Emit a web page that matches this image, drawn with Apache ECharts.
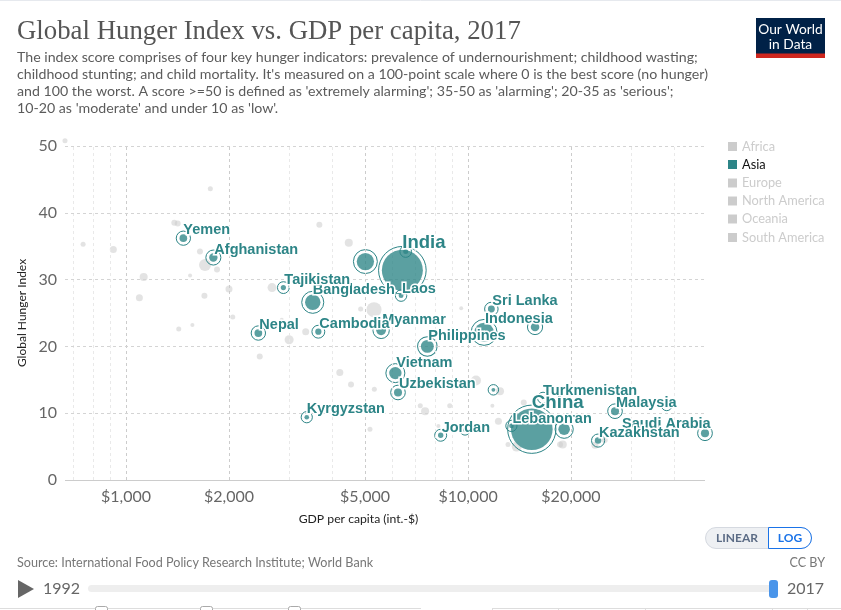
<!DOCTYPE html>
<html>
<head>
<meta charset="utf-8">
<style>html,body{margin:0;padding:0;background:#fff}#chart{width:841px;height:610px}</style>
<script src="https://cdn.jsdelivr.net/npm/echarts@6/dist/echarts.min.js"></script>
</head>
<body>
<div id="chart"></div>
<script>
// values, population is what sizes the bubbles
// order matters: later labels knock out earlier ones with their white halo
const asiaNames = ['India', 'China', 'Yemen', 'Afghanistan', 'Bangladesh', 'Tajikistan', 'Pakistan', 'Laos', 'Timor-Leste', 'Sri Lanka', 'Indonesia', 'Iraq', 'Philippines', 'Myanmar', 'Cambodia', 'Nepal', 'Kyrgyzstan', 'Vietnam', 'Uzbekistan', 'Mongolia', 'Turkmenistan', 'Iran', 'Lebanon', 'Saudi Arabia', 'Kazakhstan', 'Malaysia', 'Jordan', 'Oman', 'Armenia'];
const asiaGdp = [6426, 15360, 1471, 1800, 3515, 2884, 5010, 6370, 6573, 11700, 11140, 15700, 7603, 5570, 3650, 2437, 3376, 6130, 6240, 11860, 16570, 19100, 13390, 49300, 24000, 26900, 8318, 38100, 9800];
const asiaHunger = [31.4, 7.6, 36.2, 33.3, 26.6, 28.8, 32.7, 27.6, 34.2, 25.6, 22.1, 22.9, 20, 22.4, 22.2, 22, 9.4, 16, 13.1, 13.5, 12.3, 7.6, 8.1, 7, 5.9, 10.3, 6.7, 11.2, 7.5];
const asiaPopulation = [1339, 1386, 28, 36, 159, 9, 207, 7, 8, 21, 264, 38, 105, 53, 16, 29, 6, 95, 32, 3, 6, 81, 6, 33, 18, 32, 10, 5, 3];

const otherGdp = [663, 1764, 1384, 1416, 749, 918, 1645, 3675, 4480, 1702, 1845, 1126, 1539, 1094, 1695, 2000, 2672, 4853, 5310, 2051, 1426, 1563, 2853, 3352, 2998, 2460, 4217, 4548, 5321, 5167, 9550, 10550, 12400, 7250, 7490, 8840, 8190, 11780, 14550, 12270, 13090, 13880, 18920, 18580, 23500, 25100];
const otherHunger = [50.8, 43.6, 38.5, 38.4, 35.3, 34.5, 34.2, 38.2, 35.5, 32.2, 31.5, 30.4, 30.6, 27.3, 27.6, 28.6, 28.8, 25.6, 25.5, 24.4, 22.6, 23.2, 24, 22.2, 21, 18.5, 16.1, 14.3, 13.6, 7.6, 25.7, 14.9, 13.3, 11.1, 10.3, 11.1, 8.1, 11.1, 11.6, 8.8, 5.3, 5, 5.3, 5.3, 5.2, 6];
const otherPopulation = [8, 8, 14, 14, 8, 22, 14, 14, 32, 88, 14, 32, 3.5, 22, 14, 22, 43, 8, 149, 8, 8, 3.5, 3.5, 22, 43, 14, 22, 14, 8, 8, 3.5, 56, 32, 8, 32, 8, 3.5, 3.5, 14, 22, 8, 56, 32, 14, 22, 14];

const xLabelled = [1000, 2000, 5000, 10000, 20000];
const xMinor = [700, 800, 900, 3000, 4000, 6000, 7000, 8000, 9000, 30000, 40000];
const yTicks = [0, 10, 20, 30, 40, 50];
const continents = ['Africa', 'Asia', 'Europe', 'North America', 'Oceania', 'South America'];
const subtitleLines = [
  'The index score comprises of four key hunger indicators: prevalence of undernourishment; childhood wasting;',
  'childhood stunting; and child mortality. It\'s measured on a 100-point scale where 0 is the best score (no hunger)',
  'and 100 the worst. A score >=50 is defined as \'extremely alarming\'; 35-50 as \'alarming\'; 20-35 as \'serious\';',
  '10-20 as \'moderate\' and under 10 as \'low\'.'
];

// label placement relative to the bubble centre, [dx, dy]; a name not listed gets no label
const labelOffsets = {
  Yemen: [0, -8], Afghanistan: [1, -8], Tajikistan: [1, -8], Bangladesh: [0, -12], India: [0, -27], Laos: [1, -7],
  'Sri Lanka': [1, -8], Indonesia: [1, -13], Philippines: [1, -10], Myanmar: [1, -10], Cambodia: [1, -8], Nepal: [1, -8],
  Kyrgyzstan: [0, -8], Vietnam: [1, -10], Uzbekistan: [1, -8], Turkmenistan: [0, -7], China: [0, -26], Lebanon: [1, -7], Iran: [1, -10],
  Jordan: [1, -7], Malaysia: [1, -8], 'Saudi Arabia': [-83, -9], Kazakhstan: [1, -8]
};
const labelFonts = { India: 18.5, China: 18.7 };

const TEAL = '#2d8587';
const GRID = { left: 65, right: 136, top: 146, bottom: 130 };

const radius = (pop) => 1 + 19.5 * Math.sqrt(pop / 1339);

const asiaPoints = asiaNames.map((name, i) => ({ name, value: [asiaGdp[i], asiaHunger[i], asiaPopulation[i]] }));
const otherPoints = otherGdp.map((gdp, i) => [gdp, otherHunger[i], otherPopulation[i]]);
const labelPoints = asiaPoints
  .filter((p) => labelOffsets[p.name])
  .map((p) => ({
    ...p,
    label: {
      show: true,
      position: 'right',
      distance: 0,
      formatter: p.name,
      offset: labelOffsets[p.name],
      fontSize: labelFonts[p.name] || 14.5,
    },
  }));

const vLine = (value, showLabel, color) => [
  {
    xAxis: value,
    yAxis: 0,
    lineStyle: { color, type: [3, 3], width: 1 },
    label: showLabel
      ? { show: true, position: 'start', distance: 9, formatter: '$' + value.toLocaleString('en-US'), fontFamily: 'Lato', fontSize: 16, color: '#666' }
      : { show: false },
  },
  { xAxis: value, yAxis: 50 },
];

const text = (x, y, str, style) => ({
  type: 'text',
  x,
  y,
  style: { text: str, fontFamily: 'Lato', fontSize: 13, fill: '#666', verticalAlign: 'middle', ...style },
});
const rect = (x, y, width, height, fill, r) => ({
  type: 'rect',
  shape: { x, y, width, height, r: r || 0 },
  style: { fill },
});
const hline = (x1, x2, y, stroke) => ({
  type: 'line',
  shape: { x1, y1: y, x2, y2: y },
  style: { stroke, lineWidth: 1 },
});
const vline = (x, y1, y2, stroke) => ({
  type: 'line',
  shape: { x1: x, y1, x2: x, y2 },
  style: { stroke, lineWidth: 1 },
});
const checkbox = (x) => ({
  type: 'rect',
  shape: { x, y: 606.5, width: 12, height: 12, r: 2 },
  style: { fill: '#fff', stroke: '#aaa', lineWidth: 1 },
});

const legendRows = [146.5, 164.5, 183, 201, 219, 237.5];

const graphics = [
  hline(0, 841, 0.5, '#e6e9ee'),
  text(17, 32, 'Global Hunger Index vs. GDP per capita, 2017', { fontFamily: 'Liberation Serif', fontSize: 26.8, fill: '#555' }),
  ...subtitleLines.map((line, i) => text(17, 57.5 + i * 17, line, { fontSize: 14.2, fill: '#5b5b5b' })),
  rect(756, 18, 69, 40, '#002147'),
  rect(756, 53.5, 69, 4.5, '#ce261e'),
  text(790.5, 29.5, 'Our World', { fontSize: 13.8, fill: '#fff', align: 'center' }),
  text(790.5, 44.5, 'in Data', { fontSize: 13.8, fill: '#fff', align: 'center' }),
  ...continents.map((name, i) => rect(728, legendRows[i] - 4.5, 9, 9, name === 'Asia' ? TEAL : '#ccc')),
  ...continents.map((name, i) => text(742, legendRows[i], name, { fontSize: 12.8, fill: name === 'Asia' ? '#111' : '#ccc' })),
  { ...text(22, 313, 'Global Hunger Index', { fontSize: 12, fill: '#222', align: 'center' }), rotation: Math.PI / 2 },
  text(358.5, 519.5, 'GDP per capita (int.-$)', { fontSize: 12.2, fill: '#222', align: 'center' }),
  {
    type: 'rect',
    shape: { x: 705.5, y: 527.5, width: 106, height: 21, r: 10.5 },
    style: { fill: '#eef0f3', stroke: '#d5d9e0', lineWidth: 1 },
  },
  {
    type: 'rect',
    shape: { x: 768.5, y: 527.5, width: 43, height: 21, r: [0, 10.5, 10.5, 0] },
    style: { fill: '#fff', stroke: '#1a73e8', lineWidth: 1 },
  },
  text(737, 538, 'LINEAR', { fontSize: 12, fontWeight: 'bold', fill: '#5b6b85', align: 'center' }),
  text(790, 538, 'LOG', { fontSize: 12, fontWeight: 'bold', fill: '#1a73e8', align: 'center' }),
  text(17, 562.5, 'Source: International Food Policy Research Institute; World Bank', { fontSize: 12.6, fill: '#777' }),
  text(825, 562.5, 'CC BY', { fontSize: 12.6, fill: '#777', align: 'right' }),
  { type: 'polygon', shape: { points: [[18, 580], [34, 589], [18, 598]] }, style: { fill: '#666' } },
  text(43, 589, '1992', { fontSize: 16, fill: '#666' }),
  rect(88, 585, 686, 7, '#eee', 3.5),
  rect(769, 580, 9, 18, '#4a95ea', 3),
  text(787, 589, '2017', { fontSize: 16, fill: '#666' }),
  hline(0, 421, 608.5, '#ddd'),
  hline(492, 841, 608.5, '#ddd'),
  vline(492.5, 608, 610, '#ddd'),
  vline(558.5, 608, 610, '#ddd'),
  vline(645.5, 608, 610, '#ddd'),
  vline(772.5, 608, 610, '#ddd'),
  vline(807.5, 608, 610, '#ddd'),
  checkbox(95.5),
  checkbox(200.5),
  checkbox(288.5),
];

const chart = echarts.init(document.getElementById('chart'), null, { renderer: 'canvas' });
chart.setOption({
  animation: false,
  backgroundColor: '#fff',
  grid: GRID,
  graphic: graphics,
  xAxis: {
    type: 'log',
    logBase: 10,
    min: 663,
    max: 49300,
    axisLine: { show: false },
    axisTick: { show: false },
    axisLabel: { show: false },
    splitLine: { show: false },
    minorTick: { show: false },
    minorSplitLine: { show: false },
  },
  yAxis: {
    type: 'value',
    min: yTicks[0],
    max: yTicks[yTicks.length - 1],
    interval: 10,
    axisLine: { show: false },
    axisTick: { show: false },
    axisLabel: { fontFamily: 'Lato', fontSize: 16, color: '#666', margin: 8 },
    splitLine: { show: false },
  },
  series: [
    {
      // grid lines and x tick labels
      type: 'scatter',
      data: [],
      silent: true,
      z: 1,
      markLine: {
        silent: true,
        symbol: 'none',
        animation: false,
        data: [
          ...xMinor.map((v) => vLine(v, false, '#e9e9e9')),
          ...xLabelled.map((v) => vLine(v, true, '#ccc')),
          ...yTicks.slice(1).map((v) => [
            { xAxis: 663, yAxis: v, lineStyle: { color: '#d4d4d4', type: [3, 3], width: 1 }, label: { show: false } },
            { xAxis: 49300, yAxis: v },
          ]),
          [
            { xAxis: 663, yAxis: 0, lineStyle: { color: '#ccc', type: 'solid', width: 1 }, label: { show: false } },
            { xAxis: 49300, yAxis: 0 },
          ],
        ],
      },
    },
    {
      name: 'Other continents',
      type: 'scatter',
      data: otherPoints,
      clip: false,
      symbolSize: (v) => radius(v[2]) * 2,
      itemStyle: { color: '#ccc', opacity: 0.55 },
      z: 2,
    },
    {
      // white backing so grid lines and grey dots do not show through the bubbles
      name: 'Asia backing',
      type: 'scatter',
      data: asiaPoints,
      clip: false,
      symbolSize: (v) => radius(v[2]) * 2,
      itemStyle: { color: '#fff', opacity: 1 },
      z: 3,
    },
    {
      name: 'Asia ring',
      type: 'scatter',
      data: asiaPoints,
      clip: false,
      symbolSize: (v) => (radius(v[2]) + 3.3) * 2,
      itemStyle: { color: 'transparent', borderColor: TEAL, borderWidth: 1, opacity: 1 },
      z: 4,
    },
    {
      name: 'Asia',
      type: 'scatter',
      data: asiaPoints,
      clip: false,
      symbolSize: (v) => radius(v[2]) * 2,
      itemStyle: { color: TEAL, opacity: 0.78 },
      z: 5,
    },
    {
      name: 'Labels',
      type: 'scatter',
      data: labelPoints,
      clip: false,
      symbolSize: 0,
      itemStyle: { color: 'transparent', opacity: 1 },
      label: {
        show: true,
        color: TEAL,
        fontFamily: 'Liberation Sans',
        fontWeight: 'bold',
        textBorderColor: '#fff',
        textBorderWidth: 3,
      },
      z: 6,
    },
  ],
});
</script>
</body>
</html>
